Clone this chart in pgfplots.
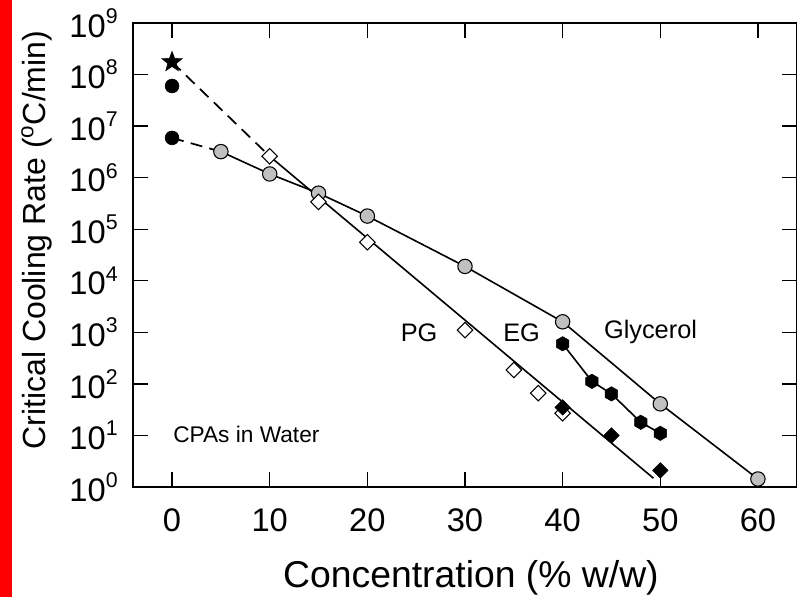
\documentclass[border=0pt]{standalone}
\usepackage{fontspec}
\setmainfont{Liberation Sans}
\usepackage{pgfplots}
\pgfplotsset{compat=1.18}

% filled five-point star and filled hexagon marks
\pgfdeclareplotmark{fstar}{%
  \pgfpathmoveto{\pgfpointpolar{90}{\pgfplotmarksize}}%
  \pgfpathlineto{\pgfpointpolar{126}{0.42\pgfplotmarksize}}%
  \pgfpathlineto{\pgfpointpolar{162}{\pgfplotmarksize}}%
  \pgfpathlineto{\pgfpointpolar{198}{0.42\pgfplotmarksize}}%
  \pgfpathlineto{\pgfpointpolar{234}{\pgfplotmarksize}}%
  \pgfpathlineto{\pgfpointpolar{270}{0.42\pgfplotmarksize}}%
  \pgfpathlineto{\pgfpointpolar{306}{\pgfplotmarksize}}%
  \pgfpathlineto{\pgfpointpolar{342}{0.42\pgfplotmarksize}}%
  \pgfpathlineto{\pgfpointpolar{18}{\pgfplotmarksize}}%
  \pgfpathlineto{\pgfpointpolar{54}{0.42\pgfplotmarksize}}%
  \pgfpathclose\pgfusepathqfillstroke}
\pgfdeclareplotmark{hexf}{%
  \pgfpathmoveto{\pgfpointpolar{90}{\pgfplotmarksize}}%
  \pgfpathlineto{\pgfpointpolar{150}{\pgfplotmarksize}}%
  \pgfpathlineto{\pgfpointpolar{210}{\pgfplotmarksize}}%
  \pgfpathlineto{\pgfpointpolar{270}{\pgfplotmarksize}}%
  \pgfpathlineto{\pgfpointpolar{330}{\pgfplotmarksize}}%
  \pgfpathlineto{\pgfpointpolar{30}{\pgfplotmarksize}}%
  \pgfpathclose\pgfusepathqfillstroke}

\definecolor{glyc}{RGB}{192,192,192}
\newcommand{\dec}[1]{10\raisebox{0.42em}{\fontsize{16}{16}\selectfont #1}}

\begin{document}
\begin{tikzpicture}
% page frame: 797x597 px at 0.75pt per px
\path[use as bounding box] (-99.75pt,-82.5pt) rectangle (498pt,365.25pt);
\fill[red] (-99.75pt,-82.5pt) rectangle (-90.75pt,365.25pt);
\begin{axis}[
  at={(0,0)}, anchor=south west,
  scale only axis, width=498pt, height=348pt,
  ymode=log, xmin=-4, xmax=64, ymin=1, ymax=1e9,
  xtick={0,10,20,30,40,50,60},
  ytick={1,10,100,1e3,1e4,1e5,1e6,1e7,1e8,1e9},
  yticklabels={\dec{0},\dec{1},\dec{2},\dec{3},\dec{4},\dec{5},\dec{6},\dec{7},\dec{8},\dec{9}},
  xminorticks=false, yminorticks=false,
  xtick pos=both, ytick pos=both, tick align=inside,
  major tick length=11pt,
  every tick/.style={black, line width=1pt},
  axis line style={line width=1.3pt},
  /pgf/number format/assume math mode=true,
  tick label style={font=\fontsize{24.5}{28}\selectfont},
  xticklabel style={yshift=-13pt},
  yticklabel style={xshift=-8pt},
  xlabel={Concentration (\% w/w)},
  ylabel={Critical Cooling Rate (\textsuperscript{o}C/min)},
  xlabel style={font=\fontsize{28}{32}\selectfont, at={(axis description cs:0.509,-0.196)}, anchor=center},
  ylabel style={font=\fontsize{24}{28}\selectfont, at={(axis description cs:-0.145,0.532)}, anchor=center},
  clip=false,
]
% connecting lines
\addplot[black, line width=1.3pt, dash pattern=on 9pt off 5.5pt, no marks] coordinates {(0,1.75e8) (10,2.6e6)};
\addplot[black, line width=1.3pt, dash pattern=on 9pt off 5.5pt, no marks] coordinates {(0,5.9e6) (5,3.2e6)};
\addplot[black, line width=1.2pt, no marks] coordinates {(5,3.2e6) (10,1.18e6) (15,5.0e5) (20,1.8e5) (30,1.9e4) (40,1.6e3) (50,41) (60,1.43)};
\addplot[black, line width=1.2pt, no marks] coordinates {(10,2.6e6) (49.3,1.48)};
\addplot[black, line width=1.2pt, no marks] coordinates {(40,600) (43,112) (45,64) (48,18) (50,11)};
% water
\addplot[only marks, mark=fstar, mark size=8pt, mark options={fill=black, draw=black}] coordinates {(0,1.75e8)};
\addplot[only marks, mark=*, mark size=5.2pt, mark options={fill=black, draw=black}] coordinates {(0,6.0e7) (0,5.9e6)};
% glycerol
\addplot[only marks, mark=*, mark size=5.4pt, mark options={fill=glyc, draw=black, line width=0.8pt}] coordinates {(5,3.2e6) (10,1.18e6) (15,5.0e5) (20,1.8e5) (30,1.9e4) (40,1.6e3) (50,41) (60,1.43)};
% PG
\addplot[only marks, mark=square*, mark size=4.1pt, mark options={rotate=45, fill=white, draw=black, line width=0.8pt}] coordinates {(10,2.6e6) (15,3.4e5) (20,5.6e4) (30,1.1e3) (35,186) (37.5,66) (40,27)};
\addplot[only marks, mark=square*, mark size=4.1pt, mark options={rotate=45, fill=black, draw=black}] coordinates {(40,35) (45,10) (50,2.1)};
% EG
\addplot[only marks, mark=hexf, mark size=5.4pt, mark options={fill=black, draw=black}] coordinates {(40,600) (43,112) (45,64) (48,18) (50,11)};
% annotations
\node[font=\fontsize{19}{22}\selectfont] at (axis cs:25.3,1000) {PG};
\node[font=\fontsize{19}{22}\selectfont] at (axis cs:35.8,1000) {EG};
\node[font=\fontsize{19}{22}\selectfont] at (axis cs:49.0,1000) {Glycerol};
\node[font=\fontsize{17}{19}\selectfont, anchor=west, inner sep=0pt] at (axis cs:0.1,10.5) {CPAs in Water};
\end{axis}
\end{tikzpicture}
\end{document}
